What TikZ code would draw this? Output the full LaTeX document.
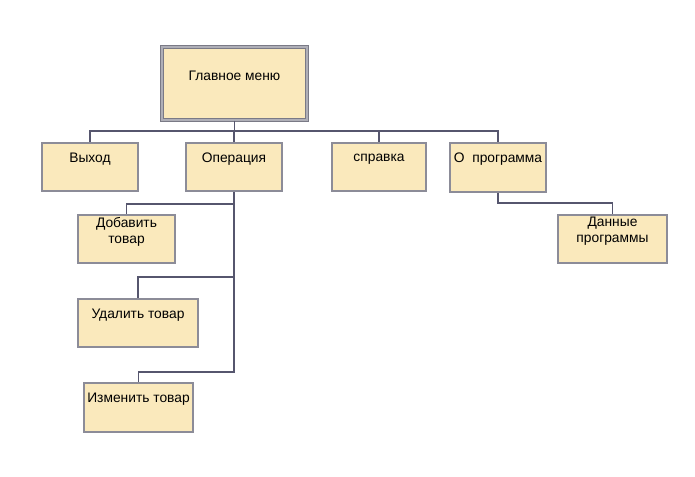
\documentclass[tikz,border=0pt]{standalone}
\usepackage{fontspec}
\setmainfont{Liberation Sans}
\usepackage{xcolor}
\definecolor{boxfill}{HTML}{FAE9BC}
\definecolor{boxline}{HTML}{8C8C98}
\definecolor{menuline}{HTML}{7A7A86}
\definecolor{connline}{HTML}{56566E}

\begin{document}
\begin{tikzpicture}[x=1pt,y=-1pt,thick,
    every node/.style={font=\fontsize{13.8}{16}\selectfont},
    box/.style={rectangle, draw=boxline, line width=1.8pt, fill=boxfill, inner sep=0pt},
    txt/.style={anchor=center, yshift=-17.5pt, align=center, inner sep=0pt},
    conn/.style={draw=connline, line width=1.9pt}]
                        \useasboundingbox (0,0) rectangle (695,476);

                        \node [box, draw=menuline, double=boxline!70, double distance=1.8pt, line width=1pt, minimum width = 145, minimum height = 73, label={[txt, yshift=-11.5pt]north:Главное меню}](1) at (234.5,83.5){};

                        \node [box, minimum width = 96, minimum height = 48, label={[txt]north:Выход}](2) at (90,167){};
                        \node [box, minimum width = 96, minimum height = 48, label={[txt]north:Операция}](3) at (234,167){};
                        \node [box, minimum width = 94, minimum height = 48, label={[txt]north:справка}](4) at (379,167){};
                        \node [box, minimum width = 96, minimum height = 49, label={[txt]north:О\ \ программа}](5) at (498,167.5){};

                        \node [box, minimum width = 97, minimum height = 48, label={[txt]north:Добавить\\товар}](6) at (126.5,239){};
                        \node [box, minimum width = 120, minimum height = 48, label={[txt]north:Удалить товар}](7) at (138,323){};
                        \node [box, minimum width = 109, minimum height = 49, label={[txt]north:Изменить товар}](8) at (138.5,407.5){};

                        \node [box, minimum width = 109, minimum height = 48, label={[txt]north:Данные\\программы}](9) at (612.5,239){};

                        \coordinate (bus) at (0,131);

                        \path[conn]
                            (1.south) -- (1.south |- bus)
                            (2.north) |- (bus -| 5.north) -- (5.north)
                            (bus -| 3.north) -- (3.north)
                            (bus -| 4.north) -- (4.north)

                            (3.south) -- ++(0,12) -| (6.north)
                            (3.south) -- ++(0,85) -| (7.north)
                            (3.south) -- ++(0,180) -| (8.north)

                            (5.south) -- ++(0,10) -| (9.north)
                        ;
                    \end{tikzpicture}
\end{document}
